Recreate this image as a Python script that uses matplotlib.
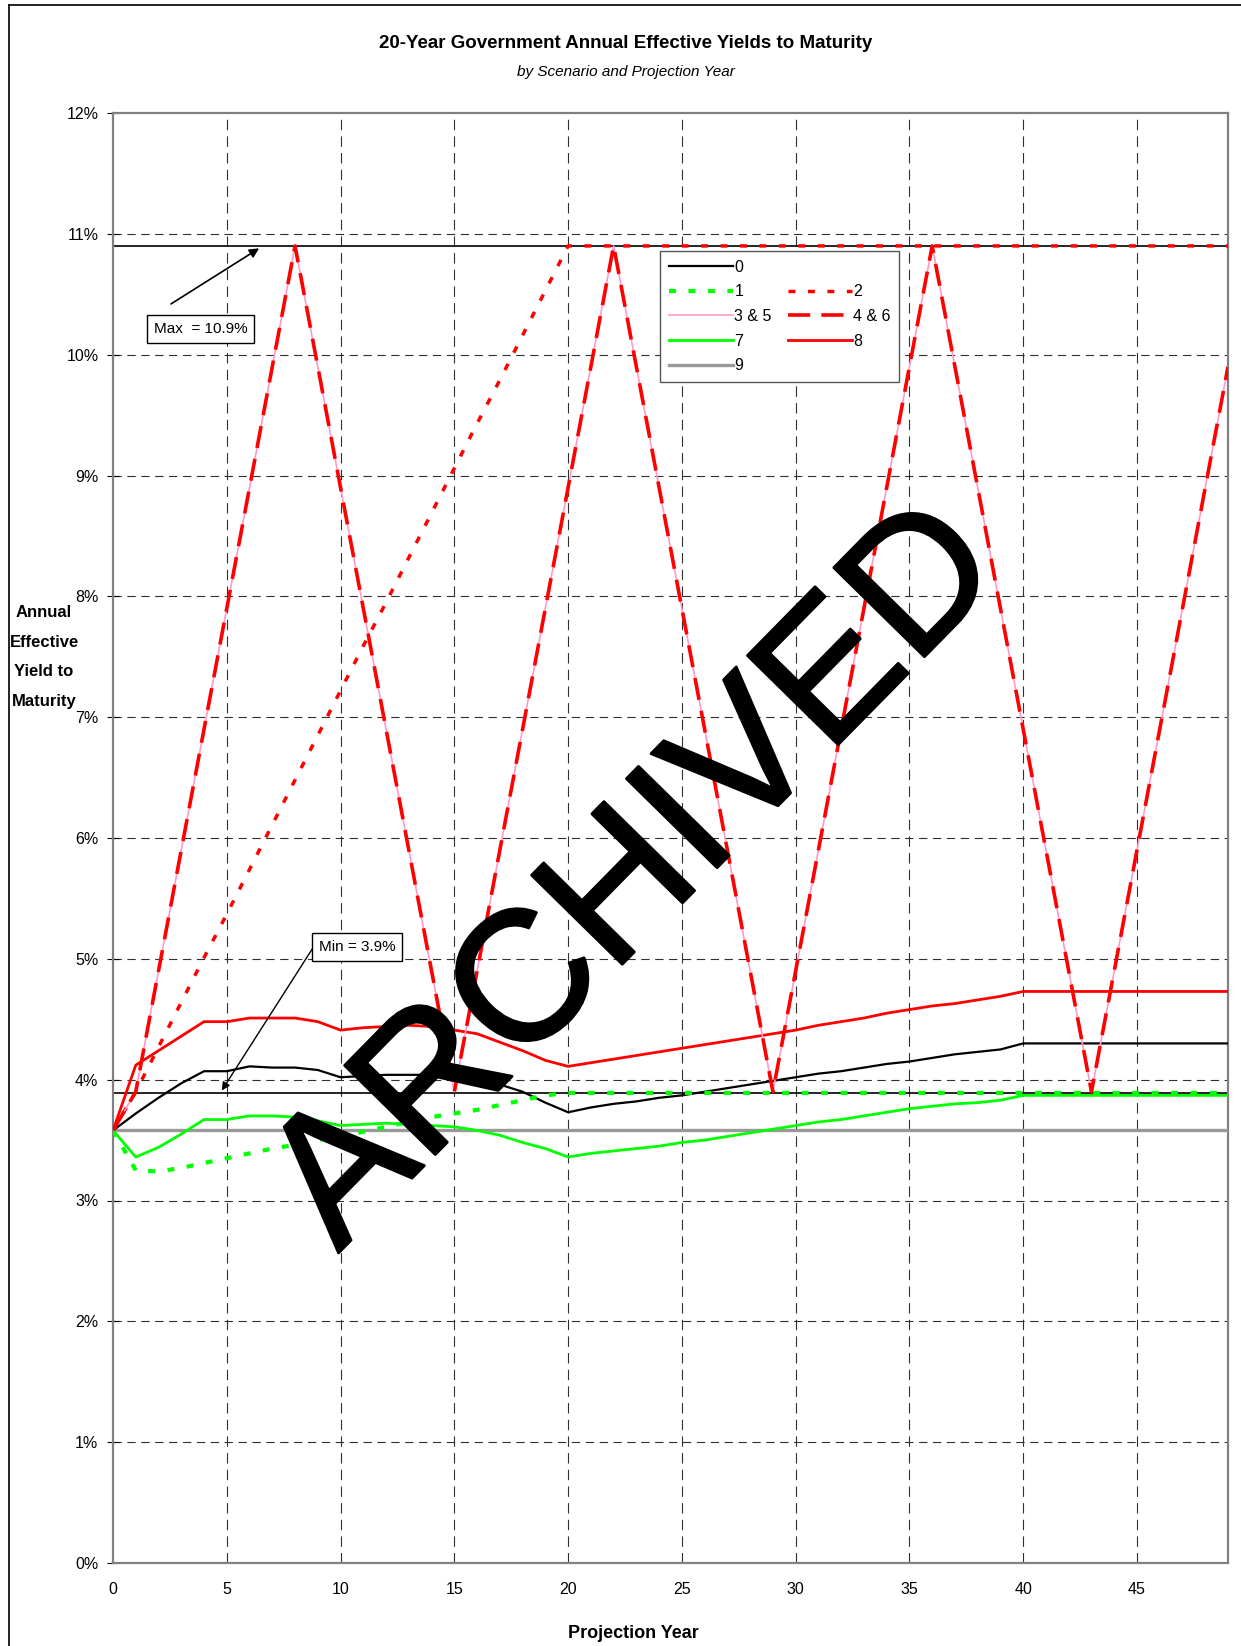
import matplotlib
matplotlib.use("Agg")
import matplotlib.pyplot as plt
import matplotlib.patheffects as pe
from matplotlib.lines import Line2D

plt.rcParams['font.family'] = ['Liberation Sans Narrow', 'Liberation Sans', 'DejaVu Sans']
plt.rcParams['lines.scale_dashes'] = False

years = list(range(50))

s0 = [3.58, 3.72, 3.85, 3.97, 4.07, 4.07, 4.11, 4.10, 4.10, 4.08,
      4.02, 4.03, 4.04, 4.04, 4.04, 4.02, 3.99, 3.96, 3.90, 3.81,
      3.73, 3.77, 3.80, 3.82, 3.85, 3.87, 3.90, 3.93, 3.96, 3.99,
      4.02, 4.05, 4.07, 4.10, 4.13, 4.15, 4.18, 4.21, 4.23, 4.25,
      4.30, 4.30, 4.30, 4.30, 4.30, 4.30, 4.30, 4.30, 4.30, 4.30]
s1 = [3.58, 3.25, 3.24, 3.27, 3.31, 3.35, 3.39, 3.43, 3.46, 3.50,
      3.53, 3.57, 3.61, 3.65, 3.69, 3.72, 3.75, 3.79, 3.83, 3.87,
      3.89] + [3.89] * 29
s2 = [3.58, 3.90, 4.27, 4.64, 5.01, 5.37, 5.74, 6.11, 6.48, 6.85,
      7.22, 7.59, 7.95, 8.32, 8.69, 9.06, 9.43, 9.79, 10.16, 10.53,
      10.90] + [10.90] * 29
s3_6 = [3.58, 3.9, 4.9, 5.9, 6.9, 7.9, 8.9, 9.9, 10.9, 9.9,
        8.9, 7.9, 6.9, 5.9, 4.9, 3.9, 4.9, 5.9, 6.9, 7.9,
        8.9, 9.9, 10.9, 9.9, 8.9, 7.9, 6.9, 5.9, 4.9, 3.9,
        4.9, 5.9, 6.9, 7.9, 8.9, 9.9, 10.9, 9.9, 8.9, 7.9,
        6.9, 5.9, 4.9, 3.9, 4.9, 5.9, 6.9, 7.9, 8.9, 9.9]
s7 = [3.58, 3.36, 3.44, 3.55, 3.67, 3.67, 3.70, 3.70, 3.69, 3.66,
      3.62, 3.63, 3.64, 3.63, 3.62, 3.61, 3.58, 3.54, 3.48, 3.43,
      3.36, 3.39, 3.41, 3.43, 3.45, 3.48, 3.50, 3.53, 3.56, 3.59,
      3.62, 3.65, 3.67, 3.70, 3.73, 3.76, 3.78, 3.80, 3.81, 3.83,
      3.87] + [3.87] * 9
s8 = [3.58, 4.12, 4.24, 4.36, 4.48, 4.48, 4.51, 4.51, 4.51, 4.48,
      4.41, 4.43, 4.44, 4.45, 4.44, 4.41, 4.38, 4.31, 4.24, 4.16,
      4.11, 4.14, 4.17, 4.20, 4.23, 4.26, 4.29, 4.32, 4.35, 4.38,
      4.41, 4.45, 4.48, 4.51, 4.55, 4.58, 4.61, 4.63, 4.66, 4.69,
      4.73] + [4.73] * 9
s9 = [3.58] * 50

max_yield = 10.9
min_yield = 3.89

fig = plt.figure(figsize=(12.41, 16.46), dpi=100)
ax = fig.add_axes([113 / 1241, 83 / 1646, 1115 / 1241, 1450 / 1646])

# grid
for x in range(5, 50, 5):
    ax.axvline(x, color='#303030', lw=0.8, linestyle=(0, (7.5, 4.5)), zorder=1)
for y in range(1, 12):
    ax.axhline(y, color='#303030', lw=0.8, linestyle=(0, (6, 4)), zorder=1)

# max / min reference lines
ax.plot([0, 49], [max_yield, max_yield], color='black', lw=1.2, zorder=2)
ax.plot([0, 49], [min_yield, min_yield], color='black', lw=1.2, zorder=2)

h9, = ax.plot(years, s9, color='#999999', lw=2.4, zorder=3)
h7, = ax.plot(years, s7, color='#00ff00', lw=2.0, zorder=3)
h8, = ax.plot(years, s8, color='red', lw=2.0, zorder=3)
h0, = ax.plot(years, s0, color='black', lw=1.6, zorder=4)
h1, = ax.plot(years, s1, color='#00ff00', lw=3.0, linestyle=(0, (5, 9)), zorder=4)
h2, = ax.plot(years, s2, color='red', lw=2.5, linestyle=(0, (5, 9)), zorder=4)
h35, = ax.plot(years, s3_6, color='#ff99cc', lw=1.2, zorder=5)
h46, = ax.plot(years, s3_6, color='red', lw=2.6, linestyle=(0, (16, 8)), zorder=6)

blank = Line2D([], [], color='none')
leg = ax.legend([h0, h1, h35, h7, h9, blank, h2, h46, h8, blank],
                ['0', '1', '3 & 5', '7', '9', '', '2', '4 & 6', '8', ''],
                ncol=2, loc='upper left', bbox_to_anchor=(0.4906, 0.9048),
                borderaxespad=0, fontsize=11.5, handlelength=4.0,
                handletextpad=0.1, columnspacing=1.0, labelspacing=0.6,
                fancybox=False, framealpha=1, edgecolor='#555555',
                borderpad=0.55)
leg.get_frame().set_linewidth(1.0)
leg.set_zorder(7)

ax.set_xlim(0, 49)
ax.set_ylim(0, 12)
ax.set_xticks(range(0, 50, 5))
ax.set_yticks(range(0, 13))
ax.set_yticklabels([f'{v}%' for v in range(0, 13)])
ax.tick_params(axis='y', direction='inout', length=9, width=0.8, labelsize=11.5, pad=6)
ax.tick_params(axis='x', length=0, labelsize=11.5, pad=14)
for s in ax.spines.values():
    s.set_color('#808080')
    s.set_linewidth(1.6)

box = dict(boxstyle='square,pad=0.45', fc='white', ec='black', lw=1)
ax.text(3.85, 10.21, 'Max  = 10.9%', ha='center', va='center', fontsize=11, bbox=box, zorder=8)
ax.annotate('', xy=(6.42, 10.88), xytext=(2.55, 10.42),
            arrowprops=dict(arrowstyle='-|>', color='black', lw=1.2,
                            shrinkA=0, shrinkB=0, mutation_scale=14), zorder=8)
ax.text(10.72, 5.10, 'Min = 3.9%', ha='center', va='center', fontsize=11, bbox=box, zorder=8)
ax.annotate('', xy=(4.78, 3.91), xytext=(8.75, 5.08),
            arrowprops=dict(arrowstyle='-|>', color='black', lw=1.0,
                            shrinkA=0, shrinkB=0, mutation_scale=12), zorder=8)

# watermark
ax.text(23.1, 5.66, 'ARCHIVED', rotation=45.5, ha='center', va='center',
        fontsize=133, family=['Liberation Sans', 'DejaVu Sans'],
        color='black', zorder=9,
        path_effects=[pe.withStroke(linewidth=2, foreground='black')])

fig.text(626 / 1241, 1 - 43 / 1646, '20-Year Government Annual Effective Yields to Maturity',
         ha='center', va='center', fontsize=13.5, fontweight='bold')
fig.text(626 / 1241, 1 - 72 / 1646, 'by Scenario and Projection Year',
         ha='center', va='center', fontsize=11, style='italic')
fig.text(633 / 1241, 1 - 1633 / 1646, 'Projection Year',
         ha='center', va='center', fontsize=13, fontweight='bold')
fig.text(44 / 1241, 1 - 657 / 1646, 'Annual\nEffective\nYield to\nMaturity',
         ha='center', va='center', fontsize=12, fontweight='bold', linespacing=2.2)

# chart-area border
fig.add_artist(Line2D([9 / 1241, 1.0], [1 - 5 / 1646, 1 - 5 / 1646], color='black', lw=1.2))
fig.add_artist(Line2D([9 / 1241, 9 / 1241], [0.0, 1 - 5 / 1646], color='black', lw=1.2))

fig.savefig('out.png', dpi=100)
